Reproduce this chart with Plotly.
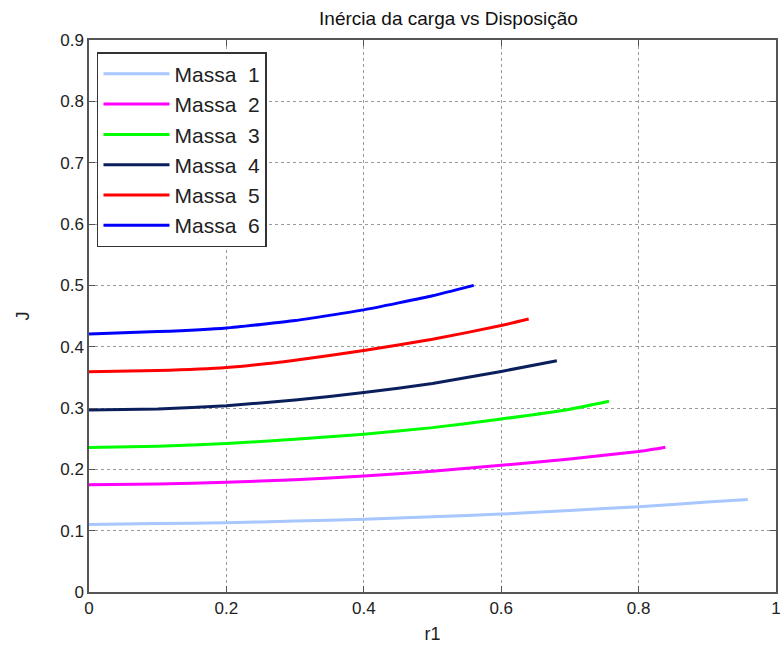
import plotly.graph_objects as go

# r1 sample positions and J values for each mass
r1_m1 = [0.0, 0.1, 0.2, 0.3, 0.4, 0.5, 0.6, 0.7, 0.8, 0.9, 0.959]
J_m1 = [0.110, 0.1115, 0.113, 0.1157, 0.1185, 0.1225, 0.127, 0.133, 0.139, 0.1466, 0.151]

r1_m2 = [0.0, 0.1, 0.2, 0.3, 0.4, 0.5, 0.6, 0.7, 0.8, 0.839]
J_m2 = [0.175, 0.176, 0.179, 0.183, 0.189, 0.197, 0.2066, 0.217, 0.229, 0.236]

r1_m3 = [0.0, 0.1, 0.2, 0.3, 0.4, 0.5, 0.6, 0.7, 0.757]
J_m3 = [0.2355, 0.2375, 0.242, 0.249, 0.2574, 0.268, 0.282, 0.298, 0.311]

r1_m4 = [0.0, 0.1, 0.2, 0.3, 0.4, 0.5, 0.6, 0.681]
J_m4 = [0.2967, 0.2985, 0.3038, 0.313, 0.3251, 0.340, 0.3596, 0.377]

r1_m5 = [0.0, 0.1, 0.2, 0.3, 0.4, 0.5, 0.6, 0.64]
J_m5 = [0.359, 0.361, 0.366, 0.378, 0.3936, 0.412, 0.4344, 0.445]

r1_m6 = [0.0, 0.1, 0.2, 0.3, 0.4, 0.5, 0.56]
J_m6 = [0.4208, 0.4246, 0.4306, 0.4426, 0.460, 0.483, 0.500]

names = ["Massa\u00a0\u00a01", "Massa\u00a0\u00a02", "Massa\u00a0\u00a03",
         "Massa\u00a0\u00a04", "Massa\u00a0\u00a05", "Massa\u00a0\u00a06"]
colors = ["#a8c6ff", "#ff00ff", "#00ff00", "#0a1f5c", "#ff0000", "#0000ff"]
xs = [r1_m1, r1_m2, r1_m3, r1_m4, r1_m5, r1_m6]
ys = [J_m1, J_m2, J_m3, J_m4, J_m5, J_m6]

x_ticks = [0, 0.2, 0.4, 0.6, 0.8, 1]
x_tick_text = ["0", "0.2", "0.4", "0.6", "0.8", "1"]
y_ticks = [0, 0.1, 0.2, 0.3, 0.4, 0.5, 0.6, 0.7, 0.8, 0.9]
y_tick_text = ["0", "0.1", "0.2", "0.3", "0.4", "0.5", "0.6", "0.7", "0.8", "0.9"]

FONT = "Liberation Sans, Arial, sans-serif"

fig = go.Figure()
for x, y, n, c in zip(xs, ys, names, colors):
    fig.add_trace(go.Scatter(
        x=x, y=y, name=n, mode="lines",
        line=dict(color=c, width=3, shape="spline", smoothing=0.4),
    ))

axis_common = dict(
    showline=True, linecolor="#555555", linewidth=1.5, mirror="ticks",
    ticks="inside", ticklen=6, tickcolor="#555555",
    showgrid=True, gridcolor="#9a9a9a", griddash="dot", gridwidth=1.2,
    zeroline=False,
    tickfont=dict(family=FONT, size=17, color="#222222"),
)

fig.update_layout(
    width=784, height=646,
    paper_bgcolor="white", plot_bgcolor="white",
    margin=dict(l=89, r=3, t=40, b=54),
    title=dict(text="Inércia da carga vs Disposição", x=0.572, xanchor="center",
               y=0.971, yanchor="middle",
               font=dict(family=FONT, size=19, color="#111111")),
    xaxis=dict(range=[0, 1], tickvals=x_ticks, ticktext=x_tick_text,
               title=dict(text="r1", font=dict(family=FONT, size=18, color="#222222"), standoff=10),
               **axis_common),
    yaxis=dict(range=[0, 0.9], tickvals=y_ticks, ticktext=y_tick_text,
               title=dict(text="J", font=dict(family=FONT, size=18, color="#222222"), standoff=26),
               **axis_common),
    legend=dict(x=0.0116, y=0.978, xanchor="left", yanchor="top",
                bgcolor="white", bordercolor="#333333", borderwidth=1.5,
                font=dict(family=FONT, size=21, color="#222222"),
                tracegroupgap=0, itemwidth=66),
    showlegend=True,
)

fig.write_html("out.html")
